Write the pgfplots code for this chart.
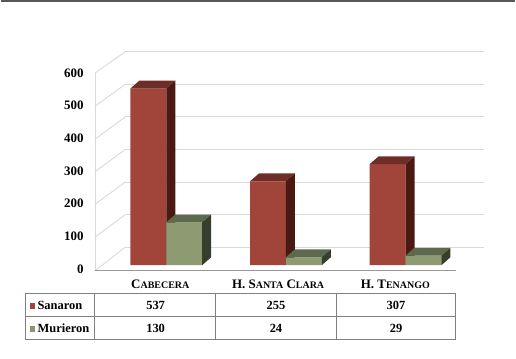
\documentclass[border=0pt]{standalone}
\usepackage{pgfplots}
\pgfplotsset{compat=1.18}
\usepackage{fontspec}
\setmainfont{Liberation Serif}
\definecolor{redF}{HTML}{A1453B}
\definecolor{redT}{HTML}{6E2E26}
\definecolor{redS}{HTML}{4A1A12}
\definecolor{grnF}{HTML}{8E9A72}
\definecolor{grnT}{HTML}{5E6A4E}
\definecolor{grnS}{HTML}{363F2B}
\definecolor{gridc}{HTML}{D9D9D9}
\definecolor{tabc}{HTML}{808080}
\begin{document}
\begin{tikzpicture}
\begin{axis}[
  x=120pt, y=0.33pt,
  xmin=0.404, xmax=3.419, ymin=-17, ymax=584,
  clip=false,
  axis line style={draw=none},
  xtick=\empty,
  ytick={-12,87,187,286,385,485,584},
  yticklabels={\textbf{0},\textbf{100},\textbf{200},\textbf{300},\textbf{400},\textbf{500},\textbf{600}},
  /pgf/number format/assume math mode=true,
  major tick length=0pt,
  yticklabel style={font=\fontsize{13}{15}\selectfont\bfseries, xshift=-8pt},
]
% bounding box of whole picture
\path (axis cs:-0.3833,-284.85) rectangle (axis cs:3.9167,806.06);
% top rule
\draw[line width=1.6pt, black!65] (axis cs:-0.3833,803.6) -- (axis cs:3.9167,803.6);
% back wall gridlines and left wall lines
\draw[gridc, line width=0.9pt] (axis cs:0.658,55) -- (axis cs:3.658,55);
\draw[gridc, line width=0.9pt] (axis cs:0.658,154) -- (axis cs:3.658,154);
\draw[gridc, line width=0.9pt] (axis cs:0.658,253) -- (axis cs:3.658,253);
\draw[gridc, line width=0.9pt] (axis cs:0.658,352) -- (axis cs:3.658,352);
\draw[gridc, line width=0.9pt] (axis cs:0.658,451) -- (axis cs:3.658,451);
\draw[gridc, line width=0.9pt] (axis cs:0.658,550) -- (axis cs:3.658,550);
\draw[gridc, line width=0.9pt] (axis cs:0.658,649) -- (axis cs:3.658,649);
\draw[gridc, line width=0.9pt] (axis cs:0.404,-17) -- (axis cs:0.658,55);
\draw[gridc, line width=0.9pt] (axis cs:0.404,85) -- (axis cs:0.658,154);
\draw[gridc, line width=0.9pt] (axis cs:0.404,185) -- (axis cs:0.658,253);
\draw[gridc, line width=0.9pt] (axis cs:0.404,284) -- (axis cs:0.658,352);
\draw[gridc, line width=0.9pt] (axis cs:0.404,383) -- (axis cs:0.658,451);
\draw[gridc, line width=0.9pt] (axis cs:0.404,483) -- (axis cs:0.658,550);
\draw[gridc, line width=0.9pt] (axis cs:0.404,584) -- (axis cs:0.658,649);
\draw[gridc, line width=0.9pt] (axis cs:0.404,-17) -- (axis cs:0.404,584);
\draw[black!40, line width=1pt] (axis cs:0.404,-17) -- (axis cs:3.419,-17);

% Sanaron bars
\addplot[ybar, bar width=0.3, bar shift=-0.15, fill=redF, draw=none] coordinates {(1,537) (2,255) (3,307)};
\addplot[fill=redT, draw=none] coordinates {(0.7,537)(0.775,561)(1.075,561)(1,537)} -- cycle;
\addplot[fill=redS, draw=none] coordinates {(1,0)(1.075,24)(1.075,561)(1,537)} -- cycle;
\addplot[fill=redT, draw=none] coordinates {(1.7,255)(1.775,279)(2.075,279)(2,255)} -- cycle;
\addplot[fill=redS, draw=none] coordinates {(2,0)(2.075,24)(2.075,279)(2,255)} -- cycle;
\addplot[fill=redT, draw=none] coordinates {(2.7,307)(2.775,331)(3.075,331)(3,307)} -- cycle;
\addplot[fill=redS, draw=none] coordinates {(3,0)(3.075,24)(3.075,331)(3,307)} -- cycle;
% Murieron bars
\addplot[ybar, bar width=0.3, bar shift=0.15, fill=grnF, draw=none] coordinates {(1,130) (2,24) (3,29)};
\addplot[fill=grnT, draw=none] coordinates {(1,130)(1.075,154)(1.375,154)(1.3,130)} -- cycle;
\addplot[fill=grnS, draw=none] coordinates {(1.3,0)(1.375,24)(1.375,154)(1.3,130)} -- cycle;
\addplot[fill=grnT, draw=none] coordinates {(2,24)(2.075,48)(2.375,48)(2.3,24)} -- cycle;
\addplot[fill=grnS, draw=none] coordinates {(2.3,0)(2.375,24)(2.375,48)(2.3,24)} -- cycle;
\addplot[fill=grnT, draw=none] coordinates {(3,29)(3.075,53)(3.375,53)(3.3,29)} -- cycle;
\addplot[fill=grnS, draw=none] coordinates {(3.3,0)(3.375,24)(3.375,53)(3.3,29)} -- cycle;

% data table
\draw[tabc, line width=0.8pt] (axis cs:-0.181,-85.8) rectangle (axis cs:3.419,-225);
\draw[tabc, line width=0.8pt] (axis cs:-0.181,-156.7) -- (axis cs:3.419,-156.7);
\draw[tabc, line width=0.8pt] (axis cs:0.4025,-85.8) -- (axis cs:0.4025,-225);
\draw[tabc, line width=0.8pt] (axis cs:1.411,-85.8) -- (axis cs:1.411,-225);
\draw[tabc, line width=0.8pt] (axis cs:2.4225,-85.8) -- (axis cs:2.4225,-225);
\tikzset{lab/.style={font=\fontsize{12.5}{14}\selectfont\bfseries, inner sep=0pt},
         cat/.style={font=\fontsize{13}{15}\selectfont\bfseries, inner sep=0pt}}
\node[cat] at (axis cs:0.95,-57.6) {C{\fontsize{10}{11}\selectfont ABECERA}};
\node[cat] at (axis cs:1.935,-57.6) {H. S{\fontsize{10}{11}\selectfont ANTA} C{\fontsize{10}{11}\selectfont LARA}};
\node[cat] at (axis cs:2.915,-57.6) {H. T{\fontsize{10}{11}\selectfont ENANGO}};
\node[lab, anchor=west] at (axis cs:-0.145,-121) {\textcolor{redF}{\rule{6pt}{6pt}}\,Sanaron};
\node[lab, anchor=west] at (axis cs:-0.145,-191) {\textcolor{grnF!80!gray}{\rule{6pt}{6pt}}\,Murieron};
\node[lab] at (axis cs:0.911,-121) {537};
\node[lab] at (axis cs:1.917,-121) {255};
\node[lab] at (axis cs:2.921,-121) {307};
\node[lab] at (axis cs:0.911,-191) {130};
\node[lab] at (axis cs:1.917,-191) {24};
\node[lab] at (axis cs:2.921,-191) {29};
\end{axis}
\end{tikzpicture}
\end{document}
